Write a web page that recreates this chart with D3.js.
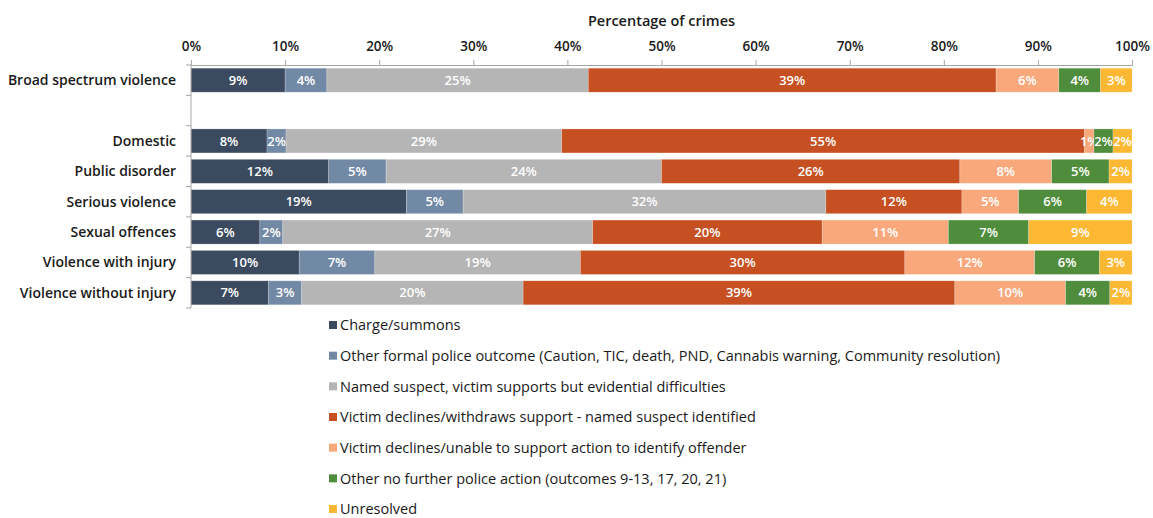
<!DOCTYPE html>
<html>
<head>
<meta charset="utf-8">
<script src="https://cdn.jsdelivr.net/npm/d3@7"></script>
<style>
  html, body { margin: 0; padding: 0; background: #fff; }
  svg { display: block; font-family: "Open Sans", "Noto Sans", sans-serif; }
</style>
</head>
<body>
<svg id="chart" width="1153" height="518"></svg>
<script>
// Crime groups (top to bottom); the first row is set apart by a gap
const categories = [
  "Broad spectrum violence",
  "Domestic",
  "Public disorder",
  "Serious violence",
  "Sexual offences",
  "Violence with injury",
  "Violence without injury"
];

// Outcome groups, in stacking order
const outcomes = [
  "Charge/summons",
  "Other formal police outcome (Caution, TIC, death, PND, Cannabis warning, Community resolution)",
  "Named suspect, victim supports but evidential difficulties",
  "Victim declines/withdraws support - named suspect identified",
  "Victim declines/unable to support action to identify offender",
  "Other no further police action (outcomes 9-13, 17, 20, 21)",
  "Unresolved"
];

// Percentage of crimes per outcome, one array per outcome (same order as categories)
const chargeSummons     = [9, 8, 12, 19, 6, 10, 7];
const otherFormal       = [4, 2, 5, 5, 2, 7, 3];
const evidentialDiff    = [25, 29, 24, 32, 27, 19, 20];
const declinesNamed     = [39, 55, 26, 12, 20, 30, 39];
const declinesUnable    = [6, 1, 8, 5, 11, 12, 10];
const otherNoAction     = [4, 2, 5, 6, 7, 6, 4];
const unresolved        = [3, 2, 2, 4, 9, 3, 2];

const tickValues = [0, 0.1, 0.2, 0.3, 0.4, 0.5, 0.6, 0.7, 0.8, 0.9, 1.0];

const colors = ["#3b4a5f", "#7289a5", "#b5b5b5", "#c65022", "#f9a87c", "#4f8d3c", "#fdb833"];

const series = [chargeSummons, otherFormal, evidentialDiff, declinesNamed, declinesUnable, otherNoAction, unresolved];

const rows = categories.map((c, i) => {
  const r = { category: c };
  outcomes.forEach((o, k) => { r[o] = series[k][i]; });
  return r;
});

const svg = d3.select("#chart");
const plotLeft = 191, plotRight = 1132, plotTop = 65, plotBottom = 308;

// Band layout with an empty slot after the first row
const bandDomain = [categories[0], "__gap__", ...categories.slice(1)];
const y = d3.scaleBand().domain(bandDomain).range([plotTop, plotBottom]).paddingInner(0.21).paddingOuter(0.105);
const x = d3.scaleLinear().domain([0, 1]).range([plotLeft, plotRight]);

const stack = d3.stack().keys(outcomes).offset(d3.stackOffsetExpand);
const stacked = stack(rows);

// Bars
const layers = svg.append("g").selectAll("g")
  .data(stacked)
  .join("g")
  .attr("fill", (d, i) => colors[i]);

layers.selectAll("rect")
  .data(d => d.map(p => ({ p, key: d.key })))
  .join("rect")
  .attr("x", d => x(d.p[0]))
  .attr("y", d => y(d.p.data.category))
  .attr("width", d => x(d.p[1]) - x(d.p[0]))
  .attr("height", y.bandwidth())
  .attr("stroke", "#ffffff")
  .attr("stroke-opacity", 0.35)
  .attr("stroke-width", 0.6);

// Value labels
layers.selectAll("text")
  .data(d => d.map(p => ({ p, key: d.key })))
  .join("text")
  .attr("x", d => (x(d.p[0]) + x(d.p[1])) / 2)
  .attr("y", d => y(d.p.data.category) + y.bandwidth() / 2)
  .attr("dy", "0.36em")
  .attr("text-anchor", "middle")
  .attr("fill", "#ffffff")
  .attr("font-size", 13)
  .attr("font-weight", 600)
  .text(d => d.p.data[d.key] + "%");

// Top axis
const xAxis = d3.axisTop(x).tickValues(tickValues).tickFormat(d3.format(".0%")).tickSize(5).tickSizeOuter(5);
const gx = svg.append("g").attr("transform", `translate(0,${plotTop})`).call(xAxis);
gx.select(".domain").attr("stroke", "#a6a6a6");
gx.selectAll(".tick line").attr("stroke", "#a6a6a6");
gx.selectAll(".tick text")
  .attr("fill", "#1a1a1a")
  .attr("font-size", 13.5)
  .attr("font-weight", 600)
  .attr("font-family", "Open Sans, sans-serif")
  .attr("dy", "-0.4em")
  .attr("y", -9);

// Left axis line with ticks at band boundaries
const gy = svg.append("g");
gy.append("line")
  .attr("x1", plotLeft).attr("x2", plotLeft)
  .attr("y1", plotTop).attr("y2", plotBottom)
  .attr("stroke", "#a6a6a6");
d3.range(bandDomain.length + 1).forEach(i => {
  const yy = plotTop + i * ((plotBottom - plotTop) / bandDomain.length);
  gy.append("line")
    .attr("x1", plotLeft - 5).attr("x2", plotLeft)
    .attr("y1", yy).attr("y2", yy)
    .attr("stroke", "#a6a6a6");
});

// Category labels
svg.append("g").selectAll("text")
  .data(categories)
  .join("text")
  .attr("x", plotLeft - 15)
  .attr("y", d => y(d) + y.bandwidth() / 2)
  .attr("dy", "0.36em")
  .attr("text-anchor", "end")
  .attr("fill", "#1a1a1a")
  .attr("font-size", 14)
  .attr("font-weight", 600)
  .text(d => d);

// Axis title
svg.append("text")
  .attr("x", (plotLeft + plotRight) / 2)
  .attr("y", 25.5)
  .attr("text-anchor", "middle")
  .attr("fill", "#1a1a1a")
  .attr("font-size", 14.5)
  .attr("font-weight", 600)
  .text("Percentage of crimes");

// Legend
const legendY = d3.scalePoint().domain(outcomes).range([325, 509]);
const legend = svg.append("g").selectAll("g")
  .data(outcomes)
  .join("g")
  .attr("transform", d => `translate(329,${legendY(d)})`);
legend.append("rect")
  .attr("x", 0).attr("y", -4)
  .attr("width", 8).attr("height", 8)
  .attr("fill", (d, i) => colors[i]);
legend.append("text")
  .attr("x", 11)
  .attr("dy", "0.36em")
  .attr("fill", "#1a1a1a")
  .attr("font-size", 14.5)
  .text(d => d);
</script>
</body>
</html>
